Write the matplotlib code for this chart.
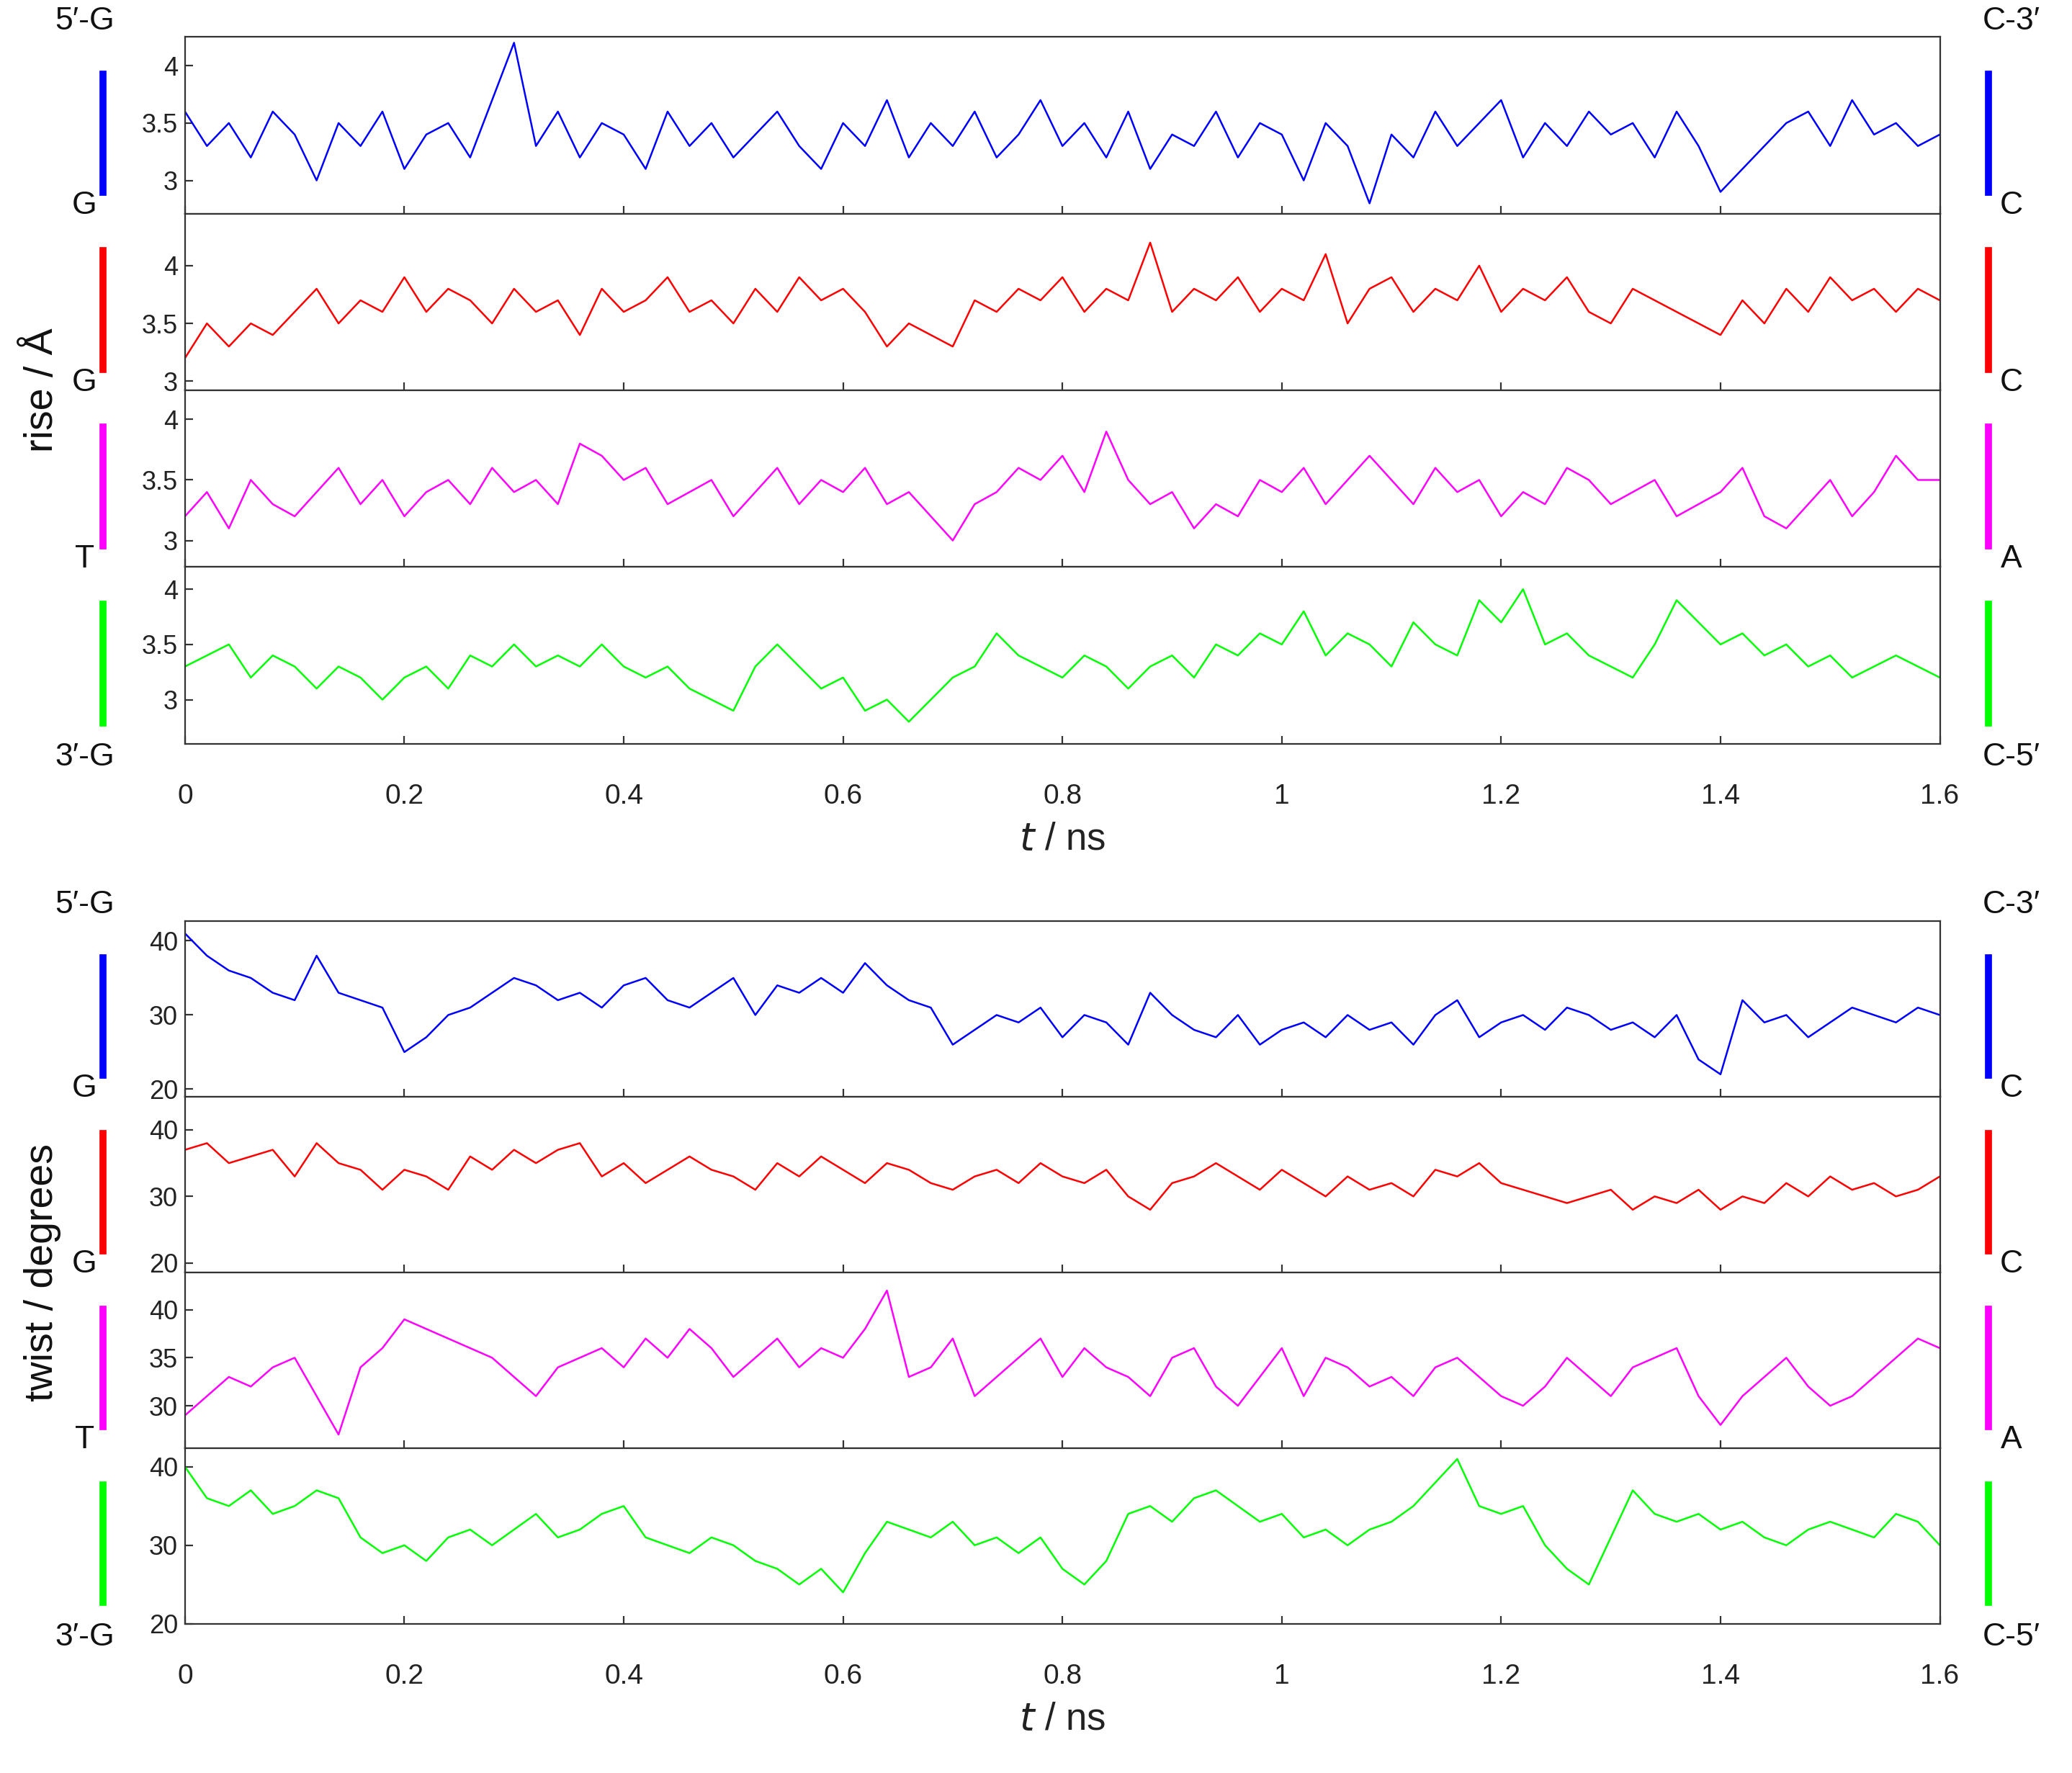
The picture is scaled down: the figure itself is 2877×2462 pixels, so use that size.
import numpy as np
import matplotlib
matplotlib.use("Agg")
import matplotlib.pyplot as plt

plt.rcParams['font.family'] = ['Liberation Sans', 'DejaVu Sans']

# ---- data (t from 0 to 1.6 ns) ----
rise_blue = [3.6,3.3,3.5,3.2,3.6,3.4,3.0,3.5,3.3,3.6,3.1,3.4,3.5,3.2,3.7,4.2,3.3,3.6,3.2,3.5,3.4,3.1,3.6,3.3,3.5,3.2,3.4,3.6,3.3,3.1,3.5,3.3,3.7,3.2,3.5,3.3,3.6,3.2,3.4,3.7,3.3,3.5,3.2,3.6,3.1,3.4,3.3,3.6,3.2,3.5,3.4,3.0,3.5,3.3,2.8,3.4,3.2,3.6,3.3,3.5,3.7,3.2,3.5,3.3,3.6,3.4,3.5,3.2,3.6,3.3,2.9,3.1,3.3,3.5,3.6,3.3,3.7,3.4,3.5,3.3,3.4]
rise_red = [3.2,3.5,3.3,3.5,3.4,3.6,3.8,3.5,3.7,3.6,3.9,3.6,3.8,3.7,3.5,3.8,3.6,3.7,3.4,3.8,3.6,3.7,3.9,3.6,3.7,3.5,3.8,3.6,3.9,3.7,3.8,3.6,3.3,3.5,3.4,3.3,3.7,3.6,3.8,3.7,3.9,3.6,3.8,3.7,4.2,3.6,3.8,3.7,3.9,3.6,3.8,3.7,4.1,3.5,3.8,3.9,3.6,3.8,3.7,4.0,3.6,3.8,3.7,3.9,3.6,3.5,3.8,3.7,3.6,3.5,3.4,3.7,3.5,3.8,3.6,3.9,3.7,3.8,3.6,3.8,3.7]
rise_magenta = [3.2,3.4,3.1,3.5,3.3,3.2,3.4,3.6,3.3,3.5,3.2,3.4,3.5,3.3,3.6,3.4,3.5,3.3,3.8,3.7,3.5,3.6,3.3,3.4,3.5,3.2,3.4,3.6,3.3,3.5,3.4,3.6,3.3,3.4,3.2,3.0,3.3,3.4,3.6,3.5,3.7,3.4,3.9,3.5,3.3,3.4,3.1,3.3,3.2,3.5,3.4,3.6,3.3,3.5,3.7,3.5,3.3,3.6,3.4,3.5,3.2,3.4,3.3,3.6,3.5,3.3,3.4,3.5,3.2,3.3,3.4,3.6,3.2,3.1,3.3,3.5,3.2,3.4,3.7,3.5,3.5]
rise_green = [3.3,3.4,3.5,3.2,3.4,3.3,3.1,3.3,3.2,3.0,3.2,3.3,3.1,3.4,3.3,3.5,3.3,3.4,3.3,3.5,3.3,3.2,3.3,3.1,3.0,2.9,3.3,3.5,3.3,3.1,3.2,2.9,3.0,2.8,3.0,3.2,3.3,3.6,3.4,3.3,3.2,3.4,3.3,3.1,3.3,3.4,3.2,3.5,3.4,3.6,3.5,3.8,3.4,3.6,3.5,3.3,3.7,3.5,3.4,3.9,3.7,4.0,3.5,3.6,3.4,3.3,3.2,3.5,3.9,3.7,3.5,3.6,3.4,3.5,3.3,3.4,3.2,3.3,3.4,3.3,3.2]

twist_blue = [41,38,36,35,33,32,38,33,32,31,25,27,30,31,33,35,34,32,33,31,34,35,32,31,33,35,30,34,33,35,33,37,34,32,31,26,28,30,29,31,27,30,29,26,33,30,28,27,30,26,28,29,27,30,28,29,26,30,32,27,29,30,28,31,30,28,29,27,30,24,22,32,29,30,27,29,31,30,29,31,30]
twist_red = [37,38,35,36,37,33,38,35,34,31,34,33,31,36,34,37,35,37,38,33,35,32,34,36,34,33,31,35,33,36,34,32,35,34,32,31,33,34,32,35,33,32,34,30,28,32,33,35,33,31,34,32,30,33,31,32,30,34,33,35,32,31,30,29,30,31,28,30,29,31,28,30,29,32,30,33,31,32,30,31,33]
twist_magenta = [29,31,33,32,34,35,31,27,34,36,39,38,37,36,35,33,31,34,35,36,34,37,35,38,36,33,35,37,34,36,35,38,42,33,34,37,31,33,35,37,33,36,34,33,31,35,36,32,30,33,36,31,35,34,32,33,31,34,35,33,31,30,32,35,33,31,34,35,36,31,28,31,33,35,32,30,31,33,35,37,36]
twist_green = [40,36,35,37,34,35,37,36,31,29,30,28,31,32,30,32,34,31,32,34,35,31,30,29,31,30,28,27,25,27,24,29,33,32,31,33,30,31,29,31,27,25,28,34,35,33,36,37,35,33,34,31,32,30,32,33,35,38,41,35,34,35,30,27,25,31,37,34,33,34,32,33,31,30,32,33,32,31,34,33,30]

colors = ['#0000ff', '#ff0000', '#ff00ff', '#00ff00']
left_labels = ['5\u2032-G', 'G', 'G', 'T', '3\u2032-G']
right_labels = ['C-3\u2032', 'C', 'C', 'A', 'C-5\u2032']
x_ticks = [0, 0.2, 0.4, 0.6, 0.8, 1, 1.2, 1.4, 1.6]
x_ticklabels = ['0', '0.2', '0.4', '0.6', '0.8', '1', '1.2', '1.4', '1.6']

rise = [rise_blue, rise_red, rise_magenta, rise_green]
rise_ylims = [(2.71, 4.25), (2.92, 4.45), (2.78, 4.24), (2.6, 4.2)]
rise_ticks = [[3, 3.5, 4]] * 4
twist = [twist_blue, twist_red, twist_magenta, twist_green]
twist_ylims = [(19, 42.7), (18.6, 45), (25.6, 43.9), (20, 42.4)]
twist_ticks = [[20, 30, 40], [20, 30, 40], [30, 35, 40], [20, 30, 40]]

W, H = 1568.0, 1342.0
fig = plt.figure(figsize=(14.385, 12.31), dpi=200)
grey = '#333333'


def block(top_px, bot_px, series, ylims, yticks, ylabel):
    x0, x1 = 140 / W, 1468 / W
    ph = (bot_px - top_px) / 4.0
    for i in range(4):
        y_top = top_px + i * ph
        ax = fig.add_axes([x0, 1 - (y_top + ph) / H, x1 - x0, ph / H])
        vals = series[i]
        t = np.linspace(0, 1.6, len(vals))
        ax.plot(t, vals, color=colors[i], lw=0.9)
        ax.set_xlim(0, 1.6)
        ax.set_ylim(*ylims[i])
        ax.set_yticks(yticks[i])
        ax.set_yticklabels([f'{v:g}' for v in yticks[i]])
        ax.tick_params(direction='in', labelsize=13, colors=grey, length=4,
                       labelcolor='#222222')
        ax.set_xticks(x_ticks)
        if i < 3:
            ax.tick_params(labelbottom=False)
        else:
            ax.set_xticklabels(x_ticklabels)
            ax.tick_params(axis='x', pad=20, labelsize=14)
            ax.set_xlabel('$t$ / ns', fontsize=19, color='#222222', labelpad=6)
        for s in ax.spines.values():
            s.set_color(grey)
    # strand labels and coloured bars
    for k in range(5):
        y = 1 - (top_px + k * ph) / H
        dy = (12 / H if k == 0 else 6 / H) - (16 / H if k == 4 else 0)
        fig.text(64 / W, y + dy, left_labels[k], ha='center', va='center',
                 fontsize=16, color='#111111')
        fig.text(1522 / W, y + dy, right_labels[k], ha='center', va='center',
                 fontsize=16, color='#111111')
    for i in range(4):
        ya = 1 - (top_px + i * ph + 28) / H
        yb = 1 - (top_px + (i + 1) * ph - 16) / H
        for xp in (78 / W, 1505 / W):
            fig.add_artist(plt.Line2D([xp, xp], [yb, ya], color=colors[i], lw=3.5,
                                      transform=fig.transFigure))
    fig.text(32 / W, 1 - (top_px + bot_px) / 2 / H, ylabel, rotation=90,
             ha='center', va='center', fontsize=20, color='#111111')


block(28, 563, rise, rise_ylims, rise_ticks, 'rise / \u00c5')
block(697, 1229, twist, twist_ylims, twist_ticks, 'twist / degrees')

fig.savefig('out.png', dpi=200)
